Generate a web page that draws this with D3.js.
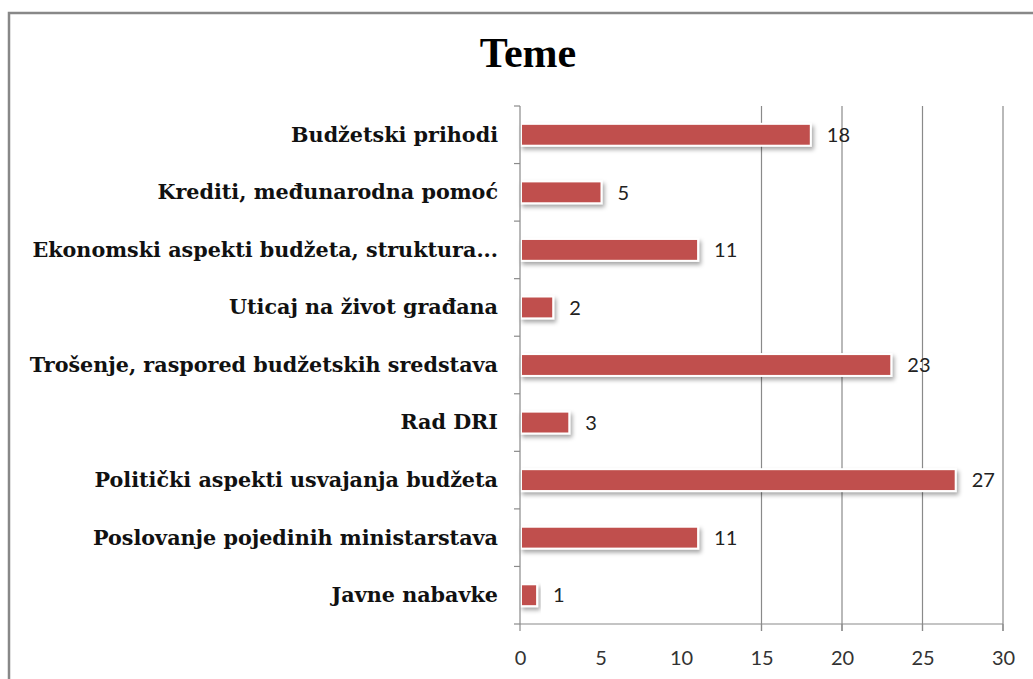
<!DOCTYPE html>
<html>
<head>
<meta charset="utf-8">
<script src="https://cdn.jsdelivr.net/npm/d3@7"></script>
<style>
  body { margin: 0; background: #fff; }
  .cat text { font-family: "DejaVu Serif", serif; font-weight: bold; font-size: 20.7px; fill: #111; }
  .val { font-family: Lato, sans-serif; font-size: 20px; fill: #222; }
  .xaxis text { font-family: Lato, sans-serif; font-size: 20px; fill: #333; }
</style>
</head>
<body>
<div id="chart"></div>
<script>
var width = 1033;
var height = 679;

// data
var categories = [
  "Budžetski prihodi",
  "Krediti, međunarodna pomoć",
  "Ekonomski aspekti budžeta, struktura...",
  "Uticaj na život građana",
  "Trošenje, raspored budžetskih sredstava",
  "Rad DRI",
  "Politički aspekti usvajanja budžeta",
  "Poslovanje pojedinih ministarstava",
  "Javne nabavke"
];
var values = [18, 5, 11, 2, 23, 3, 27, 11, 1];
var xTicks = [0, 5, 10, 15, 20, 25, 30];
var gridTicks = [15, 20, 25, 30];

var svg = d3.select("#chart").append("svg")
  .attr("width", width)
  .attr("height", height);

var defs = svg.append("defs");
var f = defs.append("filter").attr("id", "shadow")
  .attr("x", "-10%").attr("y", "-30%").attr("width", "130%").attr("height", "180%");
f.append("feDropShadow").attr("dx", 2).attr("dy", 3).attr("stdDeviation", 2)
  .attr("flood-color", "#000").attr("flood-opacity", 0.35);

// chart border
svg.append("rect")
  .attr("x", 9).attr("y", 13)
  .attr("width", 1040).attr("height", 700)
  .attr("fill", "none").attr("stroke", "#888").attr("stroke-width", 2.5);

svg.append("text")
  .attr("x", 528).attr("y", 67)
  .attr("text-anchor", "middle")
  .style("font-family", "Liberation Serif, serif")
  .style("font-weight", "bold")
  .style("font-size", "42px")
  .text("Teme");

var x = d3.scaleLinear().domain([0, 30]).range([520, 1003]);
var y = d3.scaleBand().domain(categories).range([106, 624]).paddingInner(0.62).paddingOuter(0.31);

// gridlines
svg.append("g").selectAll("line")
  .data(gridTicks)
  .enter().append("line")
  .attr("x1", function(d) { return x(d); })
  .attr("x2", function(d) { return x(d); })
  .attr("y1", 106).attr("y2", 631)
  .attr("stroke", "#8a8a8a").attr("stroke-width", 1.2);

// bars
svg.append("g").selectAll("rect")
  .data(values)
  .enter().append("rect")
  .attr("x", x(0) + 1)
  .attr("y", function(d, i) { return y(categories[i]); })
  .attr("width", function(d) { return x(d) - x(0); })
  .attr("height", y.bandwidth())
  .attr("fill", "#C0504D")
  .attr("stroke", "#fff")
  .attr("stroke-width", 2)
  .attr("filter", "url(#shadow)");

// value labels
svg.append("g").selectAll("text")
  .data(values)
  .enter().append("text")
  .attr("class", "val")
  .attr("x", function(d) { return x(d) + 17; })
  .attr("y", function(d, i) { return y(categories[i]) + y.bandwidth() / 2; })
  .attr("dy", "0.36em")
  .text(function(d) { return d; });

// y axis
var yAxis = d3.axisLeft(y).tickSize(0).tickPadding(22);
var yg = svg.append("g").attr("class", "cat")
  .attr("transform", "translate(" + x(0) + ",0)")
  .call(yAxis);
yg.select(".domain").attr("stroke", "#8a8a8a").attr("stroke-width", 1.2)
  .attr("d", "M0,106V624");
yg.selectAll("text").attr("dy", "0.33em");
// category boundary ticks
var bounds = d3.range(categories.length + 1).map(function(i) { return 106 + i * (518 / categories.length); });
yg.selectAll(".bt").data(bounds).enter().append("line")
  .attr("x1", -6).attr("x2", 0)
  .attr("y1", function(d) { return d; }).attr("y2", function(d) { return d; })
  .attr("stroke", "#8a8a8a").attr("stroke-width", 1.2);

// x axis
var xAxis = d3.axisBottom(x).tickValues(xTicks).tickSize(0).tickPadding(27);
var xg = svg.append("g").attr("class", "xaxis")
  .attr("transform", "translate(0,624)")
  .call(xAxis);
xg.select(".domain").attr("stroke", "#8a8a8a").attr("stroke-width", 1.2).attr("d", "M520,0H1003");
xg.selectAll(".mt").data([0, 15, 20, 25, 30]).enter().append("line")
  .attr("x1", function(d) { return x(d); }).attr("x2", function(d) { return x(d); })
  .attr("y1", 0).attr("y2", 7)
  .attr("stroke", "#8a8a8a").attr("stroke-width", 1.2);
</script>
</body>
</html>
